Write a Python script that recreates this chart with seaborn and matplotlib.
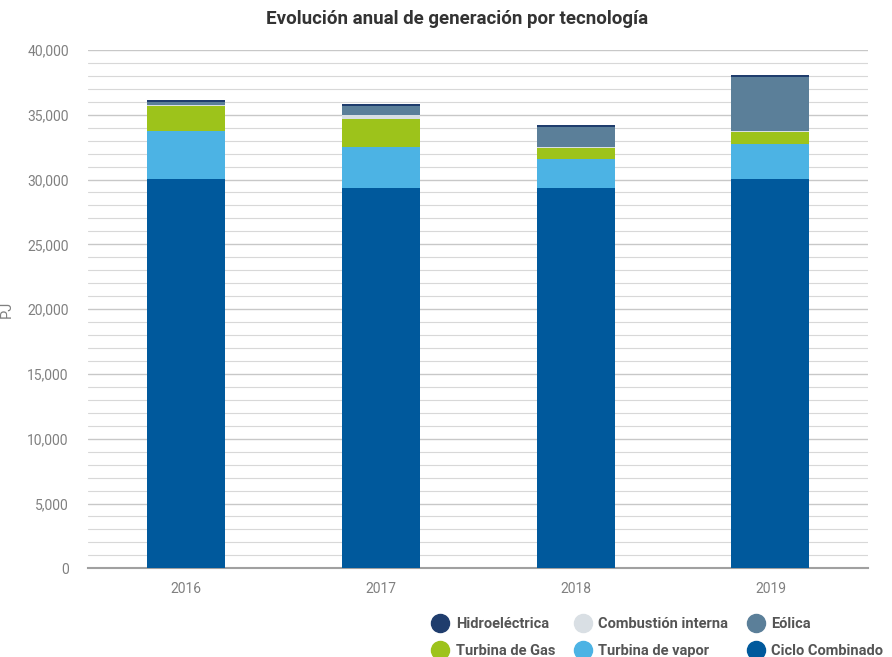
import numpy as np
import pandas as pd
import matplotlib.pyplot as plt
import seaborn as sns
from matplotlib.lines import Line2D
from matplotlib.ticker import MultipleLocator, FuncFormatter

years = ["2016", "2017", "2018", "2019"]
ciclo_combinado = [30050, 29350, 29350, 30050]
turbina_vapor = [3700, 3150, 2200, 2700]
turbina_gas = [1900, 2150, 900, 950]
eolica = [200, 700, 1600, 4150]
combustion_interna = [100, 300, 30, 30]
hidroelectrica = [200, 200, 150, 200]

series = [
    ("Ciclo Combinado", ciclo_combinado, "#00599c"),
    ("Turbina de vapor", turbina_vapor, "#4cb3e4"),
    ("Turbina de Gas", turbina_gas, "#9dc31b"),
    ("Combustión interna", combustion_interna, "#d9dfe4"),
    ("Eólica", eolica, "#5b7f99"),
    ("Hidroeléctrica", hidroelectrica, "#1f3d6d"),
]

sns.set_style("white")
plt.rcParams["font.family"] = ["Roboto", "DejaVu Sans"]

fig, ax = plt.subplots(figsize=(8.92, 6.57), dpi=100)
fig.subplots_adjust(left=0.099, right=0.973, top=0.924, bottom=0.135)

# cumulative heights, drawn from the top layer down so lower layers overlay
cum = np.cumsum([s[1] for s in series], axis=0)
for i in range(len(series) - 1, -1, -1):
    df = pd.DataFrame({"year": years, "value": cum[i]})
    sns.barplot(data=df, x="year", y="value", color=series[i][2], width=0.4,
                saturation=1, linewidth=0, edgecolor="none", ax=ax, zorder=3)

ax.set_ylim(0, 40000)
ax.yaxis.set_major_locator(MultipleLocator(5000))
ax.yaxis.set_minor_locator(MultipleLocator(1000))
ax.yaxis.set_major_formatter(FuncFormatter(lambda v, p: f"{int(v):,}"))
ax.grid(axis="y", which="major", color="#c8c8c8", linewidth=1.0, zorder=0)
ax.grid(axis="y", which="minor", color="#d8d8d8", linewidth=0.8, zorder=0)
ax.tick_params(axis="both", which="both", length=0, labelsize=10, labelcolor="#808080")
ax.tick_params(axis="x", pad=10)
ax.tick_params(axis="y", pad=14)
for side in ["top", "right", "left"]:
    ax.spines[side].set_visible(False)
ax.spines["bottom"].set_color("#a0a0a0")
ax.spines["bottom"].set_linewidth(1.5)
ax.set_xlabel("")
ax.set_ylabel("PJ", color="#808080", fontsize=10.5, labelpad=10)
ax.set_xlim(-0.5, 3.5)

fig.suptitle("Evolución anual de generación por tecnología", x=0.512, y=0.985,
             fontsize=13.5, fontweight="bold", color="#333333")

names = {s[0]: s[2] for s in series}
order = ["Hidroeléctrica", "Turbina de Gas", "Combustión interna",
         "Turbina de vapor", "Eólica", "Ciclo Combinado"]
handles = [Line2D([0], [0], marker="o", linestyle="", markersize=13,
                  markerfacecolor=names[n], markeredgecolor=names[n]) for n in order]
leg = fig.legend(handles, order, loc="lower right", bbox_to_anchor=(1.005, -0.022),
                 ncol=3, frameon=False, fontsize=10.5, handletextpad=0.05,
                 columnspacing=0.9, labelspacing=0.9)
for t in leg.get_texts():
    t.set_color("#555555")
    t.set_fontweight("bold")

fig.savefig("out.png", dpi=100)
